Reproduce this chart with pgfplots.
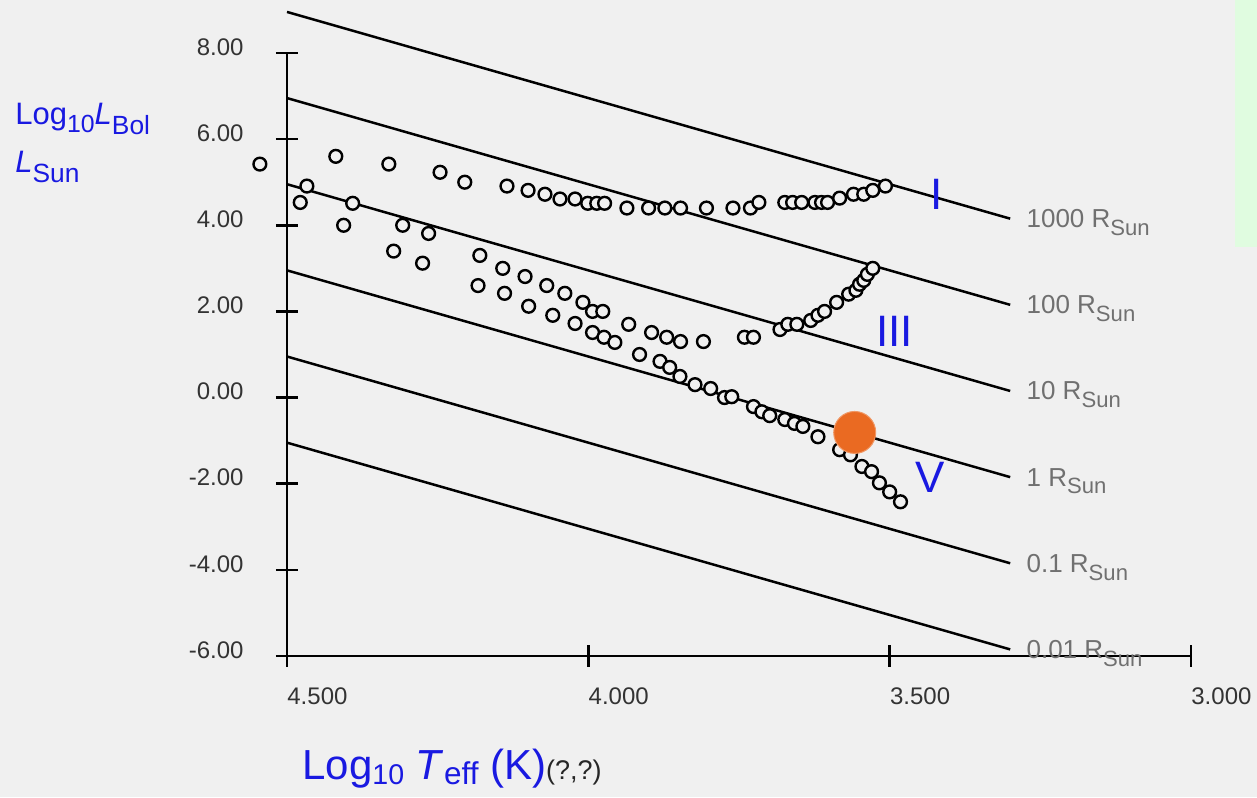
\documentclass[border=0pt]{standalone}
\usepackage{pgfplots}
\pgfplotsset{compat=1.18}
\usepackage{fontspec}
\setmainfont{Liberation Sans}
\usepackage{graphicx}
\definecolor{bg}{HTML}{F0F0F0}
\definecolor{panel}{HTML}{E0FCE0}
\definecolor{lblblue}{RGB}{25,25,225}
\definecolor{rgray}{HTML}{707070}
\definecolor{sunorange}{RGB}{234,106,34}
\definecolor{ticklbl}{HTML}{333333}
\newcommand{\sbs}[1]{\raisebox{-0.3em}{\scalebox{0.85}{#1}}}

\pgfplotstableread{
T L
4.545 5.42
4.419 5.60
4.331 5.42
4.246 5.23
4.205 5.00
4.135 4.91
4.100 4.81
4.072 4.72
4.047 4.61
4.022 4.61
4.001 4.51
3.986 4.51
3.973 4.51
3.936 4.40
3.900 4.40
3.873 4.40
3.847 4.40
3.804 4.40
3.760 4.40
3.731 4.40
3.717 4.53
3.674 4.53
3.661 4.53
3.646 4.53
3.624 4.53
3.613 4.53
3.603 4.53
3.583 4.63
3.560 4.72
3.543 4.72
3.528 4.81
3.507 4.91
}\supergiants

\pgfplotstableread{
T L
4.467 4.91
4.478 4.53
4.391 4.51
4.406 4.00
4.308 4.00
4.265 3.81
4.323 3.40
4.275 3.12
4.180 3.30
4.142 3.00
4.105 2.81
4.069 2.60
4.039 2.42
4.009 2.21
3.993 2.00
3.976 2.00
3.933 1.70
3.895 1.51
3.870 1.40
3.847 1.30
3.809 1.30
3.741 1.40
3.726 1.40
3.682 1.58
3.669 1.70
3.654 1.70
3.631 1.79
3.619 1.91
3.608 2.00
3.588 2.21
3.568 2.40
3.556 2.49
3.550 2.63
3.543 2.72
3.537 2.86
3.528 3.00
}\giants

\pgfplotstableread{
T L
4.183 2.60
4.139 2.42
4.099 2.12
4.059 1.91
4.022 1.72
3.993 1.51
3.974 1.40
3.956 1.28
3.915 1.00
3.881 0.84
3.865 0.70
3.848 0.49
3.823 0.30
3.797 0.21
3.774 0.00
3.762 0.02
3.726 -0.21
3.712 -0.33
3.699 -0.42
3.674 -0.51
3.658 -0.60
3.644 -0.67
3.619 -0.91
3.583 -1.21
3.565 -1.33
3.546 -1.60
3.530 -1.72
3.517 -1.98
3.500 -2.19
3.482 -2.42
}\mainseq

\begin{document}
\begin{tikzpicture}
\fill[bg] (0,0) rectangle (628.5pt,398.5pt);
\useasboundingbox (0,0) rectangle (628.5pt,398.5pt);
\fill[panel] (617.5pt,275pt) rectangle (628.5pt,398.5pt);
\begin{axis}[
  at={(143.5pt,70.5pt)}, anchor=south west,
  scale only axis, width=452pt, height=301.5pt,
  xmin=3, xmax=4.5, ymin=-6, ymax=8, x dir=reverse,
  axis x line=bottom, axis y line=left,
  axis line style={-, line width=1.25pt, black},
  tick align=center, major tick length=11pt,
  tick style={line width=1.25pt, black},
  xtick={3,3.5,4,4.5}, ytick={-6,-4,-2,0,2,4,6,8},
  minor tick num=0,
  clip=false,
  /pgf/number format/assume math mode=true,
  xticklabel style={/pgf/number format/.cd, fixed, fixed zerofill, precision=3, /tikz/.cd,
     anchor=north west, inner sep=0pt, text=ticklbl, font=\fontsize{12}{14}\selectfont, yshift=-10pt},
  yticklabel style={/pgf/number format/.cd, fixed, fixed zerofill, precision=2, /tikz/.cd,
     anchor=east, inner sep=0pt, text=ticklbl, font=\fontsize{12}{14}\selectfont, xshift=-16pt, yshift=3pt},
]
\addplot[black, line width=1.25pt] coordinates {(4.5,8.953) (3.3,4.153)};
\addplot[black, line width=1.25pt] coordinates {(4.5,6.953) (3.3,2.153)};
\addplot[black, line width=1.25pt] coordinates {(4.5,4.953) (3.3,0.153)};
\addplot[black, line width=1.25pt] coordinates {(4.5,2.953) (3.3,-1.847)};
\addplot[black, line width=1.25pt] coordinates {(4.5,0.953) (3.3,-3.847)};
\addplot[black, line width=1.25pt] coordinates {(4.5,-1.047) (3.3,-5.847)};

\addplot[only marks, mark=*, mark size=3.2pt, mark options={fill=bg, draw=black, line width=1.2pt}] table[x=T, y=L] {\supergiants};
\addplot[only marks, mark=*, mark size=3.2pt, mark options={fill=bg, draw=black, line width=1.2pt}] table[x=T, y=L] {\giants};
\addplot[only marks, mark=*, mark size=3.2pt, mark options={fill=bg, draw=black, line width=1.2pt}] table[x=T, y=L] {\mainseq};
\addplot[only marks, mark=*, mark size=10.5pt, mark options={fill=sunorange, draw=sunorange!70!white, line width=0.5pt}] coordinates {(3.558,-0.81)};

\begin{scope}[every node/.style={anchor=base west, inner sep=0pt, text=rgray, font=\fontsize{13}{15}\selectfont, xshift=8pt, yshift=-4.5pt}]
\node at (axis cs:3.3,4.153) {1000 R\sbs{Sun}};
\node at (axis cs:3.3,2.153) {100 R\sbs{Sun}};
\node at (axis cs:3.3,0.153) {10 R\sbs{Sun}};
\node at (axis cs:3.3,-1.847) {1 R\sbs{Sun}};
\node at (axis cs:3.3,-3.847) {0.1 R\sbs{Sun}};
\node at (axis cs:3.3,-5.847) {0.01 R\sbs{Sun}};
\end{scope}
\begin{scope}[every node/.style={inner sep=0pt, text=lblblue, font=\fontsize{22}{24}\selectfont}]
\node at (axis cs:3.422,4.72) {I};
\node at (axis cs:3.492,1.535) {III};
\node at (axis cs:3.432,-1.86) {V};
\end{scope}
\end{axis}
\node[anchor=base west, inner sep=0pt, text=lblblue, font=\fontsize{15.5}{18}\selectfont] at (7.5pt,336pt) {Log\raisebox{-0.25em}{\scalebox{0.8}{10}}\textit{L}\raisebox{-0.3em}{\scalebox{0.85}{Bol}}};
\node[anchor=base west, inner sep=0pt, text=lblblue, font=\fontsize{15.5}{18}\selectfont] at (7.5pt,312pt) {\textit{L}\raisebox{-0.3em}{\scalebox{0.85}{Sun}}};
\node[anchor=base west, inner sep=0pt, text=lblblue, font=\fontsize{21}{25}\selectfont] at (151pt,9pt) {Log\raisebox{-0.12em}{\scalebox{0.68}{10}} \textit{T}\raisebox{-0.12em}{\scalebox{0.75}{eff}} (K){\color{black!85}\fontsize{13.5}{15}\selectfont(?,?)}};
\end{tikzpicture}
\end{document}
